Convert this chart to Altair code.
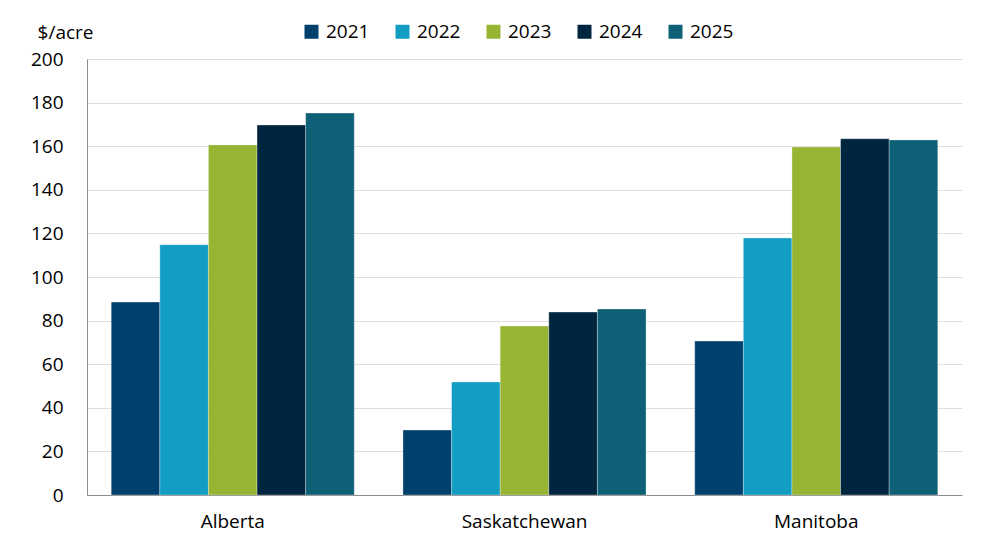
import altair as alt
import pandas as pd

provinces = ["Alberta", "Saskatchewan", "Manitoba"]
years = ["2021", "2022", "2023", "2024", "2025"]
values = {
    "2021": [88.5, 29.8, 70.6],
    "2022": [114.8, 51.8, 117.9],
    "2023": [160.6, 77.5, 159.6],
    "2024": [169.7, 83.9, 163.4],
    "2025": [175.2, 85.3, 162.9],
}
colors = ["#00406c", "#129dc3", "#97b433", "#00253f", "#0d6075"]

rows = []
for y in years:
    for p, v in zip(provinces, values[y]):
        rows.append({"Province": p, "Year": y, "Value": v})
df = pd.DataFrame(rows)

FONT = "Open Sans"
FS = 19

chart = alt.Chart(df).mark_bar(stroke="#ffffff", strokeWidth=0.6, strokeOpacity=0.5).encode(
    x=alt.X("Province:N", sort=provinces,
            scale=alt.Scale(paddingInner=0.167, paddingOuter=0.083),
            axis=alt.Axis(title=None, labelAngle=0, ticks=False, labelPadding=17,
                          labelFontSize=FS, labelFont=FONT, labelColor="#000000",
                          domainColor="#8c8c8c", domainWidth=1)),
    xOffset=alt.XOffset("Year:N", sort=years,
                        scale=alt.Scale(paddingInner=0, paddingOuter=0)),
    y=alt.Y("Value:Q", scale=alt.Scale(domain=[0, 200], nice=False),
            axis=alt.Axis(values=list(range(0, 201, 20)), title="$/acre", titleAngle=0,
                          titleAlign="right", titleBaseline="middle", titleX=6, titleY=-27,
                          titleFont=FONT, titleFontSize=FS, titleFontWeight="normal",
                          titleColor="#000000",
                          ticks=False, labelPadding=24, labelFontSize=FS, labelFont=FONT,
                          labelColor="#000000", domainColor="#8c8c8c", domainWidth=1,
                          gridColor="#dedede", gridWidth=1)),
    color=alt.Color("Year:N", sort=years, scale=alt.Scale(domain=years, range=colors),
                    legend=alt.Legend(title=None, orient="none", direction="horizontal",
                                      legendX=215, legendY=-37, symbolType="square",
                                      symbolSize=196, symbolStrokeWidth=0,
                                      labelFontSize=FS, labelFont=FONT, labelColor="#000000",
                                      columnPadding=23, labelOffset=5)),
).properties(
    width=875, height=436,
    autosize=alt.AutoSizeParams(type="none"),
    padding={"left": 79, "top": 51, "right": 22, "bottom": 47},
).configure_view(stroke=None)

chart.save("out.html", embed_options={"renderer": "svg", "actions": False})
